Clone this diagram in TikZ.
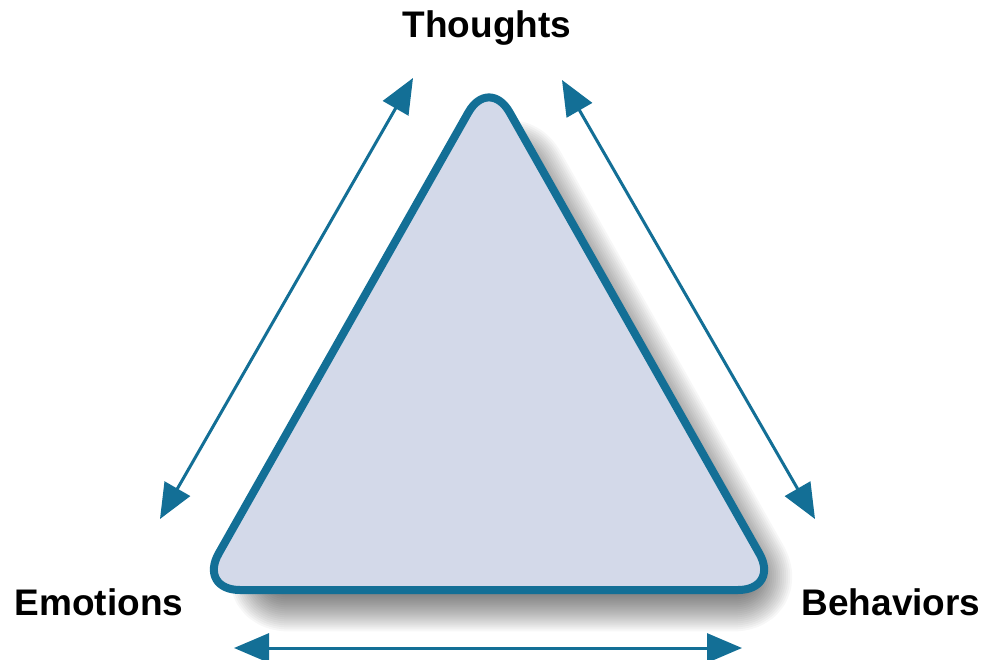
\documentclass[tikz,border=0pt]{standalone}
\usepackage{fontspec}
\setmainfont{Liberation Sans}
\usetikzlibrary{arrows.meta}
\definecolor{teal1}{HTML}{136F96}
\definecolor{trifill}{HTML}{D3D9E9}
\tikzset{
  lbl/.style={font=\bfseries\fontsize{37}{40}\selectfont, text=black, inner sep=0pt},
  dblarrow/.style={draw=teal1, line width=3pt, {Triangle[length=35pt,width=29pt]}-{Triangle[length=35pt,width=29pt]}},
  tri/.style={draw=teal1, fill=trifill, line width=8pt, rounded corners=42pt, line join=round},
  shadowpass/.style={draw=black, draw opacity=0.03, rounded corners=34pt, line join=round},
  shadowcore/.style={fill=black, fill opacity=0.42, rounded corners=34pt}
}
\begin{document}
\begin{tikzpicture}[x=1pt,y=-1pt]
\useasboundingbox (0,0) rectangle (984,660);
\fill[white] (0,0) rectangle (984,660);
% soft shadow
\begin{scope}[shift={(22,24)}]
\begin{scope}[shift={(489,418.7)}, scale=0.88, shift={(-489,-418.7)}]
\fill[shadowcore] (489,76) -- (780,590) -- (198,590) -- cycle;
\foreach \w in {76,72,...,4}{
  \draw[shadowpass, line width=\w pt] (489,76) -- (780,590) -- (198,590) -- cycle;
}
\end{scope}
\end{scope}
% triangle
\draw[tri] (489,76) -- (780,590) -- (198,590) -- cycle;
% labels
\node[lbl] (thoughts) at (487,28) {Thoughts};
\node[lbl] (emotions) at (99,602) {Emotions};
\node[lbl] (behaviors) at (891,602) {Behaviors};
% arrow ends
\coordinate (l1) at (160,519);
\coordinate (l2) at (413,78);
\coordinate (r1) at (562,80);
\coordinate (r2) at (815,519);
\coordinate (b1) at (234,648);
\coordinate (b2) at (742,648);
\draw[dblarrow] (l1) -- (l2);
\draw[dblarrow] (r1) -- (r2);
\draw[dblarrow] (b1) -- (b2);
\end{tikzpicture}
\end{document}
